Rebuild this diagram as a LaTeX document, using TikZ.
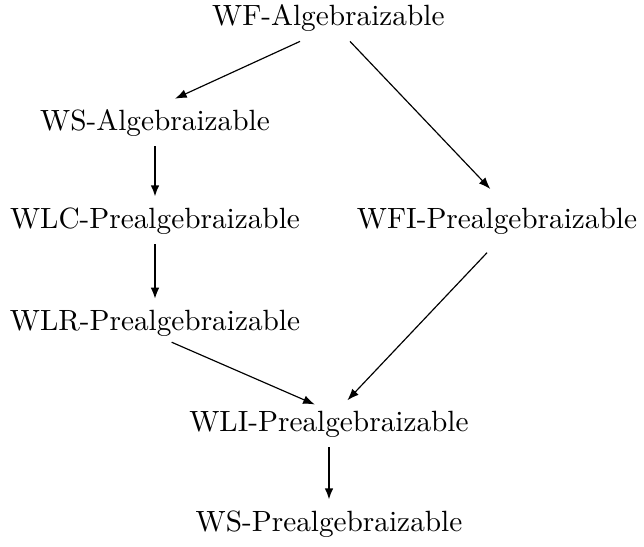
\documentclass[tikz,border=0pt]{standalone}
\usetikzlibrary{arrows.meta}
\usepackage{amsmath, amssymb}

\tikzset{
  cls/.style={anchor=base},
  imp/.style={-{Latex[length=4pt,width=3pt]}, line width=0.4pt},
  strong/.style={imp, line width=0.8pt}
}

\begin{document}
\begin{tikzpicture}
	\useasboundingbox (0,0) rectangle (7.728,-6.552);
	\node [cls] (wfa) at (3.94,-0.30) {WF-Algebraizable};
	\node [cls] (wsa) at (1.86,-1.56) {WS-Algebraizable};
	\node [cls] (wlc) at (1.86,-2.736) {WLC-Prealgebraizable};
	\node [cls] (wfi) at (5.964,-2.736) {WFI-Prealgebraizable};
	\node [cls] (wlr) at (1.86,-3.96) {WLR-Prealgebraizable};
	\node [cls] (wli) at (3.948,-5.172) {WLI-Prealgebraizable};
	\node [cls] (wsp) at (3.948,-6.372) {WS-Prealgebraizable};
	\draw [imp] ([xshift=-0.34cm]wfa.south) -- ([xshift=0.24cm]wsa.north);
	\draw [imp] ([xshift=0.26cm]wfa.south) -- ([xshift=-0.08cm,yshift=0.1cm]wfi.north);
	\draw [strong] (wsa) -- (wlc);
	\draw [strong] (wlc) -- (wlr);
	\draw [imp] ([xshift=0.2cm,yshift=0.05cm]wlr.south) -- ([xshift=-0.17cm,yshift=-0.05cm]wli.north);
	\draw [imp] ([xshift=-0.12cm,yshift=-0.1cm]wfi.south) -- ([xshift=0.22cm]wli.north);
	\draw [strong] (wli) -- (wsp);
\end{tikzpicture}
\end{document}
